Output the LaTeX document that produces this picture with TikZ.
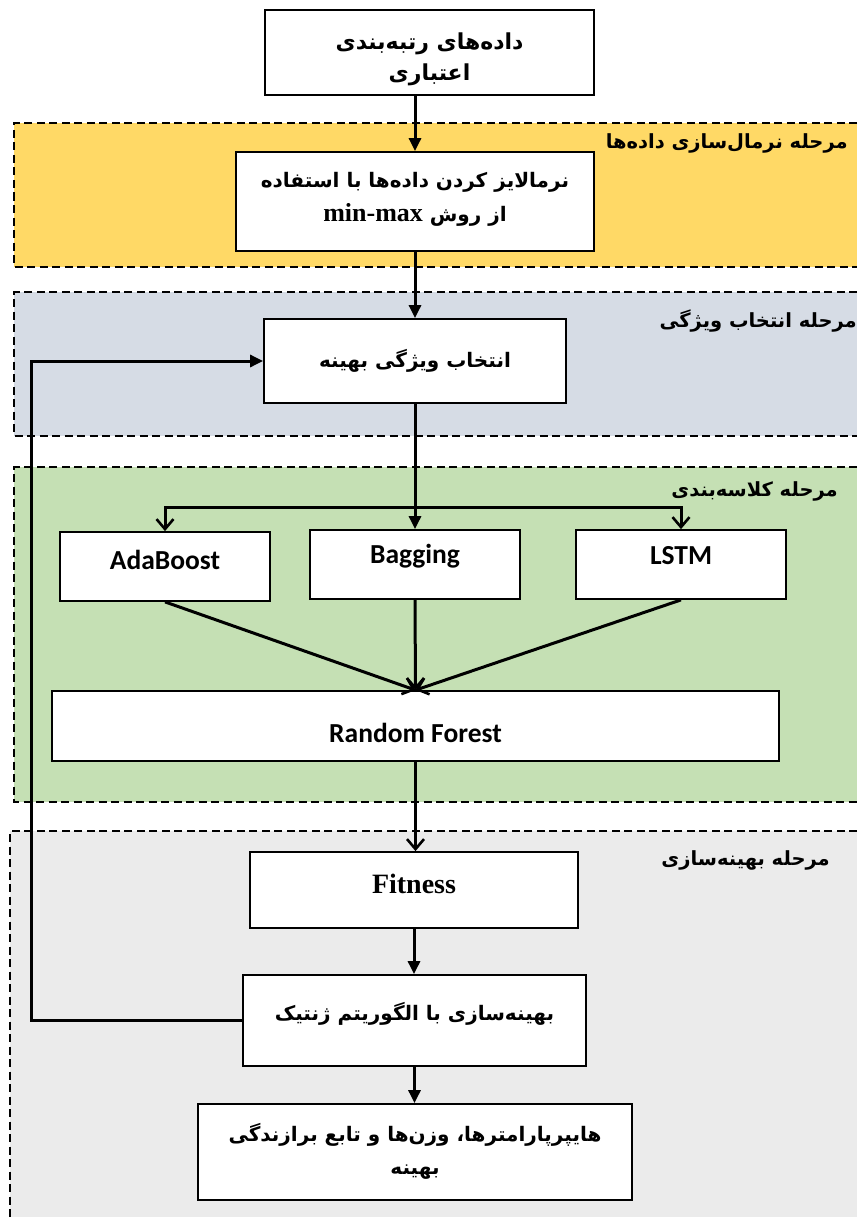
\documentclass[tikz,border=0pt]{standalone}
\usepackage{fontspec}
\usetikzlibrary{arrows.meta}
\TeXXeTstate=1
\newfontfamily\fa[Script=Arabic]{DejaVu Sans}
\newfontfamily\tnr{Liberation Serif}
\newfontfamily\carl{Carlito}
\definecolor{bandY}{HTML}{FFD966}
\definecolor{bandB}{HTML}{D6DCE5}
\definecolor{bandG}{HTML}{C5E0B4}
\definecolor{bandK}{HTML}{EBEBEB}
\newcommand{\fatext}[1]{{\fa\bfseries\beginR #1\endR}}
\newcommand{\shiftup}[2]{\raisebox{#1}[\height][\depth]{#2}}
\newcommand{\twolines}[3]{\shiftup{#1}{\begin{tabular}{@{}c@{}}#2\\#3\end{tabular}}}
\tikzset{
  box/.style={draw=black, line width=1.8pt, fill=white, rectangle, align=center, inner sep=0pt},
  bandedge/.style={line width=1.6pt, dash pattern=on 8pt off 4.5pt},
  flow/.style={line width=3pt, -{Triangle[length=13pt,width=12pt]}},
  vflow/.style={line width=3pt, -{Straight Barb[length=10pt,width=17pt,line width=2.6pt]}},
  phase/.style={anchor=east, inner sep=0pt, font=\fontsize{19.5}{22}\selectfont},
  fasize/.style={font=\fontsize{20}{33}\selectfont},
  ensize/.style={font=\carl\bfseries\fontsize{27.5}{30}\selectfont},
}
\begin{document}
\begin{tikzpicture}[x=1pt,y=-1pt]
\useasboundingbox (0,0) rectangle (857,1217);
% bands
\fill[bandY] (14,123) rectangle (857,267);
\draw[bandedge] (857,123) -- (14,123) -- (14,267) -- (857,267);
\fill[bandB] (14,292) rectangle (857,436);
\draw[bandedge] (857,292) -- (14,292) -- (14,436) -- (857,436);
\fill[bandG] (14,467) rectangle (857,802);
\draw[bandedge] (857,467) -- (14,467) -- (14,802) -- (857,802);
\fill[bandK] (10,831) rectangle (857,1217);
\draw[bandedge] (857,831) -- (10,831) -- (10,1217);
% phase labels
\node[phase] (p1) at (848,143) {\fatext{مرحله نرمال‌سازی داده‌ها}};
\node[phase] (p2) at (857,321) {\fatext{مرحله انتخاب ویژگی}};
\node[phase] (p3) at (838,491) {\fatext{مرحله کلاسه‌بندی}};
\node[phase] (p4) at (830,860) {\fatext{مرحله بهینه‌سازی}};
% boxes
\node[box, font=\fontsize{22}{31}\selectfont, minimum width=329pt, minimum height=85pt] (data) at (429.5,52.5)
  {\twolines{-6.5pt}{\fatext{داده‌های رتبه‌بندی}}{\fatext{اعتباری}}};
\node[box, font=\fontsize{20}{34}\selectfont, minimum width=358pt, minimum height=99pt] (norm) at (415,201.5)
  {\twolines{3.5pt}{\fatext{نرمالایز کردن داده‌ها با استفاده}}{{\fa\bfseries\beginR از روش \beginL{\tnr\bfseries\fontsize{26}{30}\selectfont min-max}\endL\endR}}};
\node[box, fasize, minimum width=302pt, minimum height=84pt] (fs) at (415,361)
  {\fatext{انتخاب ویژگی بهینه}};
\node[box, ensize, minimum width=210pt, minimum height=69pt] (ada) at (165,566.5)
  {\shiftup{7pt}{AdaBoost}};
\node[box, ensize, minimum width=210pt, minimum height=69pt] (bag) at (415,564.5)
  {\shiftup{8.5pt}{Bagging}};
\node[box, ensize, minimum width=210pt, minimum height=69pt] (lstm) at (681,564.5)
  {\shiftup{8.5pt}{LSTM}};
\node[box, ensize, minimum width=727pt, minimum height=70pt] (rf) at (415.5,726)
  {\shiftup{-7pt}{Random Forest}};
\node[box, minimum width=328pt, minimum height=76pt, font=\tnr\bfseries\fontsize{28}{30}\selectfont] (fit) at (414,890)
  {\shiftup{6pt}{Fitness}};
\node[box, fasize, minimum width=343pt, minimum height=91pt] (ga) at (414.5,1020.5)
  {\shiftup{7pt}{\fatext{بهینه‌سازی با الگوریتم ژنتیک}}};
\node[box, font=\fontsize{20}{33}\selectfont, minimum width=434pt, minimum height=96pt] (out) at (415,1152)
  {\twolines{1pt}{\fatext{هایپرپارامترها، وزن‌ها و تابع برازندگی}}{\fatext{بهینه}}};
% connectors
\coordinate (split) at (415,507);
\coordinate (fb) at (31,1020.5);
\draw[flow] (data.south -| norm.north) -- (norm.north);
\draw[flow] (norm.south) -- (fs.north);
\draw[flow] (fs.south) -- (bag.north);
\draw[vflow] (split) -| (ada.north);
\draw[vflow] (split) -| (lstm.north);
\draw[vflow] (ada.south) -- (rf.north);
\draw[vflow] (bag.south) -- (rf.north);
\draw[vflow] (lstm.south) -- (rf.north);
\draw[vflow] (rf.south) -- (fit.north -| rf.south);
\draw[flow] (fit.south) -- (ga.north -| fit.south);
\draw[flow] (ga.south) -- (out.north -| ga.south);
\draw[flow] (ga.west) -- (fb) |- (fs.west);
\end{tikzpicture}
\end{document}
